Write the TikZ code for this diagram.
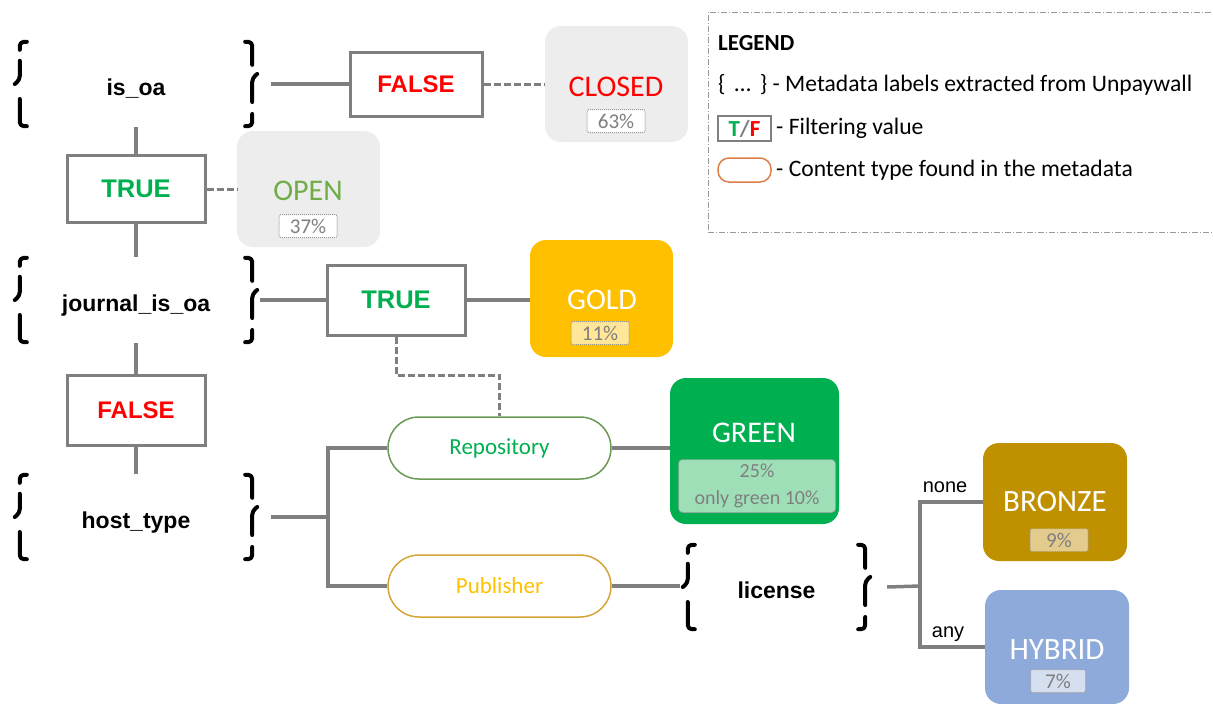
\documentclass[tikz,border=0pt]{standalone}
\usepackage{fontspec}
\setmainfont{Carlito}
\newfontfamily\arialf{Liberation Sans}
\usetikzlibrary{calc}
\definecolor{lgrey}{HTML}{7F7F7F}
\definecolor{tfgreen}{HTML}{00B050}
\definecolor{tfred}{HTML}{FF0000}
\definecolor{boxgrey}{HTML}{EDEDED}
\definecolor{opengreen}{HTML}{70AD47}
\definecolor{goldc}{HTML}{FFC000}
\definecolor{goldin}{HTML}{FFE699}
\definecolor{greenc}{HTML}{00B050}
\definecolor{greenin}{HTML}{9FDFB8}
\definecolor{bronzec}{HTML}{BF9000}
\definecolor{bronzein}{HTML}{E2CB8C}
\definecolor{hybridc}{HTML}{8EAADB}
\definecolor{hybridin}{HTML}{D6DFF0}
\definecolor{repoline}{HTML}{6A9955}
\definecolor{publine}{HTML}{D4A537}
\definecolor{legorange}{HTML}{DC7F4A}
\tikzset{
  conn/.style={draw=lgrey, line width=3.5pt},
  dconn/.style={draw=lgrey, line width=3pt, dash pattern=on 7pt off 3pt},
  filterbox/.style={draw=lgrey, line width=3pt, fill=white, minimum width=138pt, minimum height=68pt, inner sep=0pt, font=\arialf\bfseries\fontsize{24}{28}\selectfont},
  truebox/.style={filterbox, text=tfgreen, font=\arialf\bfseries\fontsize{25.5}{28}\selectfont},
  falsebox/.style={filterbox, text=tfred},
  result/.style={rounded corners=16pt, minimum width=143pt, minimum height=116pt},
  pct/.style={draw=lgrey!80, densely dotted, line width=1pt, rounded corners=2pt, minimum width=58pt, minimum height=23pt, text=lgrey, font=\fontsize{21}{26}\selectfont, inner sep=0pt},
  bigtxt/.style={font=\fontsize{30}{34}\selectfont, text=white, inner sep=0pt},
  meta/.style={minimum height=86pt, text height=27pt, text depth=5pt, font=\arialf\bfseries\fontsize{23}{26}\selectfont, inner sep=0pt},
  pill/.style={rounded corners=31pt, minimum width=223pt, minimum height=62pt, line width=1.5pt, font=\fontsize{23}{26}\selectfont},
  brc/.style={line width=4pt, line cap=round, line join=round, rounded corners=4pt},
  edgelbl/.style={font=\arialf\fontsize{20}{24}\selectfont, inner sep=0pt},
  legtxt/.style={font=\fontsize{23.6}{28}\selectfont, inner sep=0pt, anchor=west},
}
\newcommand\metabraces[1]{%
  % left brace
  \draw[brc] ($(#1.north west)+(12,1)$) -- ($(#1.north west)+(5,1)$) -- ($(#1.north west)+(5,9)$);
  \draw[brc] ($(#1.north west)+(5,20)$) -- ($(#1.west)+(5,-4)$) -- ($(#1.west)+(0,0)$);
  \draw[brc] ($(#1.west)+(5,15)$) -- ($(#1.south west)+(5,-1)$) -- ($(#1.south west)+(12,-1)$);
  % right brace
  \draw[brc] ($(#1.north east)+(-12,1)$) -- ($(#1.north east)+(-5,1)$) -- ($(#1.north east)+(-5,24)$);
  \draw[brc] ($(#1.east)+(0,-10)$) -- ($(#1.east)+(-5,-6)$) -- ($(#1.east)+(-5,18)$);
  \draw[brc] ($(#1.east)+(-5,30)$) -- ($(#1.south east)+(-5,-1)$) -- ($(#1.south east)+(-12,-1)$);
}
\begin{document}
\begin{tikzpicture}[x=1pt,y=-1pt]
\useasboundingbox (0,0) rectangle (1213,704);

% legend
\node[draw=lgrey!80, line width=1pt, dash pattern=on 6pt off 2pt on 1pt off 2pt, minimum width=510pt, minimum height=220pt] (legend) at (963,122) {};
\node[legtxt, font=\bfseries\fontsize{23}{28}\selectfont] (legtitle) at (718,43) {LEGEND};
\node[legtxt] (legbr) at (718,85) {\{\hspace{9pt}…\hspace{9pt}\} - Metadata labels extracted from Unpaywall};
\node[draw=lgrey, line width=1.5pt, minimum width=53pt, minimum height=25pt, inner sep=0pt, font=\bfseries\fontsize{23}{26}\selectfont] (legtf) at (744.5,128.5) {\textcolor{tfgreen}{T}\textcolor{lgrey}{/}\textcolor{tfred}{F}};
\node[legtxt] (legtft) at (776,128) {- Filtering value};
\node[draw=legorange, line width=1.5pt, rounded corners=11pt, minimum width=53pt, minimum height=24pt] (legpill) at (744.5,170) {};
\node[legtxt] (legpillt) at (776,170) {- Content type found in the metadata};

% metadata labels
\node[meta, minimum width=242pt] (isoa) at (136,84) {is\_oa};
\node[meta, minimum width=242pt] (jisoa) at (136,300) {journal\_is\_oa};
\node[meta, minimum width=242pt] (host) at (136,517) {host\_type};
\node[meta, minimum width=187pt] (lic) at (776.5,587) {license};
\metabraces{isoa}
\metabraces{jisoa}
\metabraces{host}
\metabraces{lic}

% filtering values
\node[falsebox, minimum width=132pt, minimum height=64pt] (f1) at (416,84) {FALSE};
\node[truebox, minimum height=67pt] (t1) at (136,189) {TRUE};
\node[truebox, minimum height=70pt] (t2) at (396,300) {TRUE};
\node[falsebox, minimum height=70pt] (f2) at (136,410) {FALSE};

% content types
\node[pill, draw=repoline, fill=white, text=tfgreen] (repo) at (499.5,448) {Repository};
\node[pill, draw=publine, fill=white, text=goldc] (pub) at (499.5,586) {Publisher};

% results
\node[result, fill=boxgrey] (closed) at (616.5,84) {};
\node[bigtxt, text=tfred] (closedt) at (616,87) {CLOSED};
\node[pct, fill=white] (closedp) at (616,121) {63\%};

\node[result, fill=boxgrey] (open) at (308.5,189) {};
\node[bigtxt, text=opengreen] (opent) at (308,191) {OPEN};
\node[pct, fill=white] (openp) at (308,226) {37\%};

\node[result, fill=goldc, minimum height=117pt] (gold) at (601.5,298.5) {};
\node[bigtxt] (goldt) at (602,300) {GOLD};
\node[pct, fill=goldin] (goldp) at (600,333) {11\%};

\node[result, fill=greenc, minimum width=169pt, minimum height=146pt] (green) at (754.5,451) {};
\node[bigtxt] (greent) at (754,433) {GREEN};
\node[pct, fill=greenin, minimum width=157pt, minimum height=53pt, rounded corners=4pt, align=center, font=\fontsize{20}{27}\selectfont] (greenp) at (757,486) {25\%\\only green 10\%};

\node[result, fill=bronzec, minimum width=144pt, minimum height=118pt] (bronze) at (1055,502) {};
\node[bigtxt, font=\fontsize{31}{34}\selectfont] (bronzet) at (1055,502) {BRONZE};
\node[pct, fill=bronzein] (bronzep) at (1059,540) {9\%};

\node[result, fill=hybridc, minimum width=144pt, minimum height=114pt] (hybrid) at (1057,647) {};
\node[bigtxt, font=\fontsize{31}{34}\selectfont] (hybridt) at (1057,650) {HYBRID};
\node[pct, fill=hybridin, minimum width=55pt] (hybridp) at (1058,681) {7\%};

% connectors
\draw[conn] ([xshift=14pt]isoa.east) -- (f1.west);
\draw[dconn] (f1.east) -- (closed.west);
\draw[conn] (isoa.south -| t1.north) -- (t1.north);
\draw[dconn] (t1.east) -- (open.west);
\draw[conn] (t1.south) -- (t1.south |- jisoa.north);
\draw[conn] ([xshift=3pt]jisoa.east) -- (t2.west);
\draw[conn] (t2.east) -- (t2.east -| gold.west);
\draw[conn] (jisoa.south -| f2.north) -- (f2.north);
\draw[conn] (f2.south) -- (f2.south |- host.north);
\coordinate (hsplit) at (328,517);
\draw[conn] ([xshift=14pt]host.east) -- (hsplit);
\draw[conn] (repo.west) -| (hsplit) |- (pub.west);
\coordinate (dj) at (450,375);
\draw[dconn] (t2.south) |- (dj) -| (repo.north);
\draw[conn] (repo.east) -- (repo.east -| green.west);
\draw[conn] (pub.east) -- ([xshift=-3pt]pub.east -| lic.west);
\coordinate (lsplit) at (920,586);
\draw[conn] ([xshift=17pt]lic.east) -- (lsplit);
\draw[conn] (bronze.west) -| (lsplit) |- (hybrid.west);
\node[edgelbl] (none) at (945,487) {none};
\node[edgelbl] (any) at (948,634) {any};
\end{tikzpicture}
\end{document}
